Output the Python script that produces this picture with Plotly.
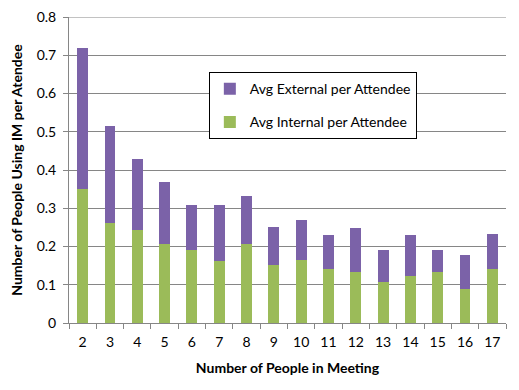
import plotly.graph_objects as go

people = ["2", "3", "4", "5", "6", "7", "8", "9", "10", "11", "12", "13", "14", "15", "16", "17"]
total = [0.718, 0.516, 0.430, 0.368, 0.308, 0.308, 0.332, 0.252, 0.268, 0.229, 0.249, 0.192, 0.231, 0.190, 0.179, 0.234]
internal = [0.350, 0.262, 0.242, 0.207, 0.192, 0.161, 0.207, 0.151, 0.164, 0.140, 0.133, 0.107, 0.123, 0.133, 0.089, 0.140]
external = [round(t - i, 3) for t, i in zip(total, internal)]
y_ticks = [0, 0.1, 0.2, 0.3, 0.4, 0.5, 0.6, 0.7, 0.8]
y_ticktext = ["0", "0.1", "0.2", "0.3", "0.4", "0.5", "0.6", "0.7", "0.8"]

FONT = "Lato"

fig = go.Figure()
fig.add_trace(go.Bar(x=people, y=internal, name="Avg Internal per Attendee",
                     marker=dict(color="#9BBB59", line=dict(width=0)),
                     legendgroup="b", legendrank=2))
fig.add_trace(go.Bar(x=people, y=external, name="Avg External per Attendee",
                     marker=dict(color="#7B62A8", line=dict(width=0)),
                     legendgroup="a", legendrank=1))

# top gridline at the range end
fig.add_shape(type="line", xref="paper", yref="y", x0=0, x1=1, y0=y_ticks[-1], y1=y_ticks[-1],
              line=dict(color="#868686", width=1), layer="below")

fig.update_layout(
    width=519, height=390,
    barmode="stack", bargap=0.6,
    margin=dict(l=61, r=21, t=9, b=75),
    plot_bgcolor="white", paper_bgcolor="white",
    font=dict(family=FONT, size=14, color="#000000"),
    showlegend=True,
    legend=dict(x=0.32, y=0.82, xanchor="left", yanchor="top",
                bgcolor="white", bordercolor="#000000", borderwidth=1,
                traceorder="grouped", tracegroupgap=12,
                font=dict(family=FONT, size=14)),
    xaxis=dict(type="category", showline=True, linecolor="#868686", linewidth=1,
               ticks="outside", tickson="boundaries", ticklen=5, tickcolor="#868686",
               ticklabelstandoff=6,
               showgrid=False, automargin=False,
               title=dict(text="<b>Number of People in Meeting</b>", font=dict(size=14), standoff=14)),
    yaxis=dict(range=[0, 0.8], tickmode="array", tickvals=y_ticks, ticktext=y_ticktext,
               showline=True, linecolor="#868686", automargin=False,
               linewidth=1, ticks="outside", ticklen=5, tickcolor="#868686",
               ticklabelstandoff=4, ticklabeloverflow="allow",
               showgrid=True, gridcolor="#868686", gridwidth=1, zeroline=False,
               title=dict(text="<b>Number of People Using IM per Atendee</b>", font=dict(size=14), standoff=12)),
)
fig.write_html("out.html")
